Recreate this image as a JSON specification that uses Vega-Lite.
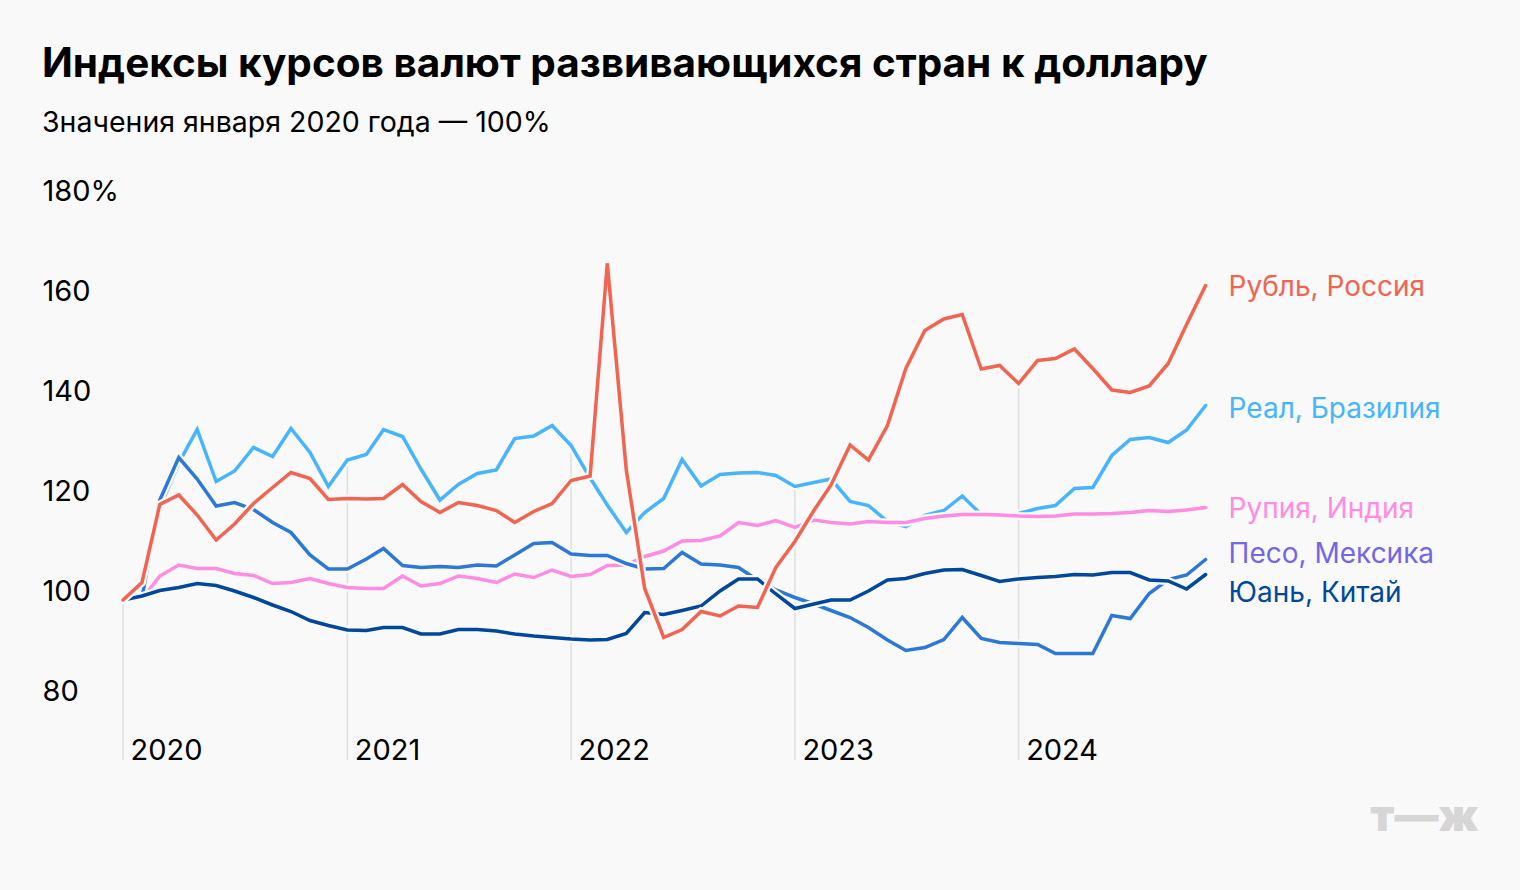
{
  "$schema": "https://vega.github.io/schema/vega-lite/v6.json",
  "width": 1120,
  "height": 560,
  "autosize": {"type": "none"},
  "padding": {"left": 123, "top": 200, "right": 277, "bottom": 130},
  "background": "#f9f9f9",
  "config": {
    "view": {"stroke": null},
    "font": "Inter",
    "axis": {"labelFont": "Inter", "labelColor": "#000000", "domain": false, "ticks": false, "grid": false}
  },
  "title": {
    "text": "Индексы курсов валют развивающихся стран к доллару",
    "subtitle": "Значения января 2020 года — 100%",
    "anchor": "start",
    "frame": "bounds",
    "font": "Inter",
    "fontSize": 40.5,
    "fontWeight": "bold",
    "color": "#000000",
    "subtitleFont": "Inter",
    "subtitleFontSize": 28.5,
    "subtitleColor": "#000000",
    "subtitlePadding": 23,
    "offset": 40
  },
  "data": {
    "format": {"parse": {"date": "date"}},
    "values": [
      {"date":"2020-01-01","cur":"RUB","value":100},{"date":"2020-02-01","cur":"RUB","value":103.5},{"date":"2020-03-01","cur":"RUB","value":119.1},{"date":"2020-04-01","cur":"RUB","value":121},{"date":"2020-05-01","cur":"RUB","value":117},{"date":"2020-06-01","cur":"RUB","value":112},{"date":"2020-07-01","cur":"RUB","value":115.2},{"date":"2020-08-01","cur":"RUB","value":119.3},{"date":"2020-09-01","cur":"RUB","value":122.5},{"date":"2020-10-01","cur":"RUB","value":125.5},{"date":"2020-11-01","cur":"RUB","value":124.3},{"date":"2020-12-01","cur":"RUB","value":120.1},
      {"date":"2021-01-01","cur":"RUB","value":120.3},{"date":"2021-02-01","cur":"RUB","value":120.2},{"date":"2021-03-01","cur":"RUB","value":120.3},{"date":"2021-04-01","cur":"RUB","value":123.1},{"date":"2021-05-01","cur":"RUB","value":119.7},{"date":"2021-06-01","cur":"RUB","value":117.5},{"date":"2021-07-01","cur":"RUB","value":119.5},{"date":"2021-08-01","cur":"RUB","value":118.9},{"date":"2021-09-01","cur":"RUB","value":117.9},{"date":"2021-10-01","cur":"RUB","value":115.5},{"date":"2021-11-01","cur":"RUB","value":117.7},{"date":"2021-12-01","cur":"RUB","value":119.3},
      {"date":"2022-01-01","cur":"RUB","value":123.9},{"date":"2022-02-01","cur":"RUB","value":124.8},{"date":"2022-03-01","cur":"RUB","value":167.3},{"date":"2022-04-01","cur":"RUB","value":126},{"date":"2022-05-01","cur":"RUB","value":102.3},{"date":"2022-06-01","cur":"RUB","value":92.5},{"date":"2022-07-01","cur":"RUB","value":94.1},{"date":"2022-08-01","cur":"RUB","value":97.7},{"date":"2022-09-01","cur":"RUB","value":96.8},{"date":"2022-10-01","cur":"RUB","value":98.8},{"date":"2022-11-01","cur":"RUB","value":98.5},{"date":"2022-12-01","cur":"RUB","value":106.5},
      {"date":"2023-01-01","cur":"RUB","value":111.7},{"date":"2023-02-01","cur":"RUB","value":117.9},{"date":"2023-03-01","cur":"RUB","value":123},{"date":"2023-04-01","cur":"RUB","value":131},{"date":"2023-05-01","cur":"RUB","value":128},{"date":"2023-06-01","cur":"RUB","value":134.9},{"date":"2023-07-01","cur":"RUB","value":146.3},{"date":"2023-08-01","cur":"RUB","value":153.9},{"date":"2023-09-01","cur":"RUB","value":156.2},{"date":"2023-10-01","cur":"RUB","value":157.1},{"date":"2023-11-01","cur":"RUB","value":146.2},{"date":"2023-12-01","cur":"RUB","value":146.9},
      {"date":"2024-01-01","cur":"RUB","value":143.3},{"date":"2024-02-01","cur":"RUB","value":147.9},{"date":"2024-03-01","cur":"RUB","value":148.3},{"date":"2024-04-01","cur":"RUB","value":150.2},{"date":"2024-05-01","cur":"RUB","value":146.3},{"date":"2024-06-01","cur":"RUB","value":142},{"date":"2024-07-01","cur":"RUB","value":141.5},{"date":"2024-08-01","cur":"RUB","value":142.8},{"date":"2024-09-01","cur":"RUB","value":147.3},{"date":"2024-10-01","cur":"RUB","value":155.1},{"date":"2024-11-01","cur":"RUB","value":162.9},

      {"date":"2020-01-01","cur":"BRL","value":100},{"date":"2020-02-01","cur":"BRL","value":100.4},{"date":"2020-03-01","cur":"BRL","value":118.5},{"date":"2020-04-01","cur":"BRL","value":127.4},{"date":"2020-05-01","cur":"BRL","value":134.1},{"date":"2020-06-01","cur":"BRL","value":123.7},{"date":"2020-07-01","cur":"BRL","value":125.8},{"date":"2020-08-01","cur":"BRL","value":130.5},{"date":"2020-09-01","cur":"BRL","value":128.7},{"date":"2020-10-01","cur":"BRL","value":134.3},{"date":"2020-11-01","cur":"BRL","value":129.5},{"date":"2020-12-01","cur":"BRL","value":122.7},
      {"date":"2021-01-01","cur":"BRL","value":128},{"date":"2021-02-01","cur":"BRL","value":129.1},{"date":"2021-03-01","cur":"BRL","value":134.1},{"date":"2021-04-01","cur":"BRL","value":132.7},{"date":"2021-05-01","cur":"BRL","value":126.2},{"date":"2021-06-01","cur":"BRL","value":120},{"date":"2021-07-01","cur":"BRL","value":123.1},{"date":"2021-08-01","cur":"BRL","value":125.3},{"date":"2021-09-01","cur":"BRL","value":126},{"date":"2021-10-01","cur":"BRL","value":132.3},{"date":"2021-11-01","cur":"BRL","value":132.8},{"date":"2021-12-01","cur":"BRL","value":134.9},
      {"date":"2022-01-01","cur":"BRL","value":130.9},{"date":"2022-02-01","cur":"BRL","value":124.4},{"date":"2022-03-01","cur":"BRL","value":119},{"date":"2022-04-01","cur":"BRL","value":113.5},{"date":"2022-05-01","cur":"BRL","value":117.5},{"date":"2022-06-01","cur":"BRL","value":120.3},{"date":"2022-07-01","cur":"BRL","value":128.1},{"date":"2022-08-01","cur":"BRL","value":122.8},{"date":"2022-09-01","cur":"BRL","value":125.1},{"date":"2022-10-01","cur":"BRL","value":125.4},{"date":"2022-11-01","cur":"BRL","value":125.5},{"date":"2022-12-01","cur":"BRL","value":124.9},
      {"date":"2023-01-01","cur":"BRL","value":122.7},{"date":"2023-02-01","cur":"BRL","value":123.5},{"date":"2023-03-01","cur":"BRL","value":124.2},{"date":"2023-04-01","cur":"BRL","value":119.7},{"date":"2023-05-01","cur":"BRL","value":118.9},{"date":"2023-06-01","cur":"BRL","value":115.7},{"date":"2023-07-01","cur":"BRL","value":114.7},{"date":"2023-08-01","cur":"BRL","value":116.9},{"date":"2023-09-01","cur":"BRL","value":117.9},{"date":"2023-10-01","cur":"BRL","value":120.8},{"date":"2023-11-01","cur":"BRL","value":117.1},{"date":"2023-12-01","cur":"BRL","value":116.7},
      {"date":"2024-01-01","cur":"BRL","value":117.3},{"date":"2024-02-01","cur":"BRL","value":118.3},{"date":"2024-03-01","cur":"BRL","value":118.9},{"date":"2024-04-01","cur":"BRL","value":122.3},{"date":"2024-05-01","cur":"BRL","value":122.5},{"date":"2024-06-01","cur":"BRL","value":128.9},{"date":"2024-07-01","cur":"BRL","value":132.1},{"date":"2024-08-01","cur":"BRL","value":132.5},{"date":"2024-09-01","cur":"BRL","value":131.5},{"date":"2024-10-01","cur":"BRL","value":134},{"date":"2024-11-01","cur":"BRL","value":138.9},

      {"date":"2020-01-01","cur":"INR","value":100},{"date":"2020-02-01","cur":"INR","value":100.2},{"date":"2020-03-01","cur":"INR","value":104.8},{"date":"2020-04-01","cur":"INR","value":107},{"date":"2020-05-01","cur":"INR","value":106.3},{"date":"2020-06-01","cur":"INR","value":106.3},{"date":"2020-07-01","cur":"INR","value":105.3},{"date":"2020-08-01","cur":"INR","value":104.9},{"date":"2020-09-01","cur":"INR","value":103.3},{"date":"2020-10-01","cur":"INR","value":103.5},{"date":"2020-11-01","cur":"INR","value":104.3},{"date":"2020-12-01","cur":"INR","value":103.3},
      {"date":"2021-01-01","cur":"INR","value":102.5},{"date":"2021-02-01","cur":"INR","value":102.3},{"date":"2021-03-01","cur":"INR","value":102.3},{"date":"2021-04-01","cur":"INR","value":104.8},{"date":"2021-05-01","cur":"INR","value":102.8},{"date":"2021-06-01","cur":"INR","value":103.3},{"date":"2021-07-01","cur":"INR","value":104.8},{"date":"2021-08-01","cur":"INR","value":104.3},{"date":"2021-09-01","cur":"INR","value":103.5},{"date":"2021-10-01","cur":"INR","value":105.2},{"date":"2021-11-01","cur":"INR","value":104.5},{"date":"2021-12-01","cur":"INR","value":106},
      {"date":"2022-01-01","cur":"INR","value":104.7},{"date":"2022-02-01","cur":"INR","value":105.1},{"date":"2022-03-01","cur":"INR","value":106.9},{"date":"2022-04-01","cur":"INR","value":107},{"date":"2022-05-01","cur":"INR","value":108.7},{"date":"2022-06-01","cur":"INR","value":109.8},{"date":"2022-07-01","cur":"INR","value":111.8},{"date":"2022-08-01","cur":"INR","value":111.9},{"date":"2022-09-01","cur":"INR","value":112.8},{"date":"2022-10-01","cur":"INR","value":115.5},{"date":"2022-11-01","cur":"INR","value":114.9},{"date":"2022-12-01","cur":"INR","value":115.9},
      {"date":"2023-01-01","cur":"INR","value":114.5},{"date":"2023-02-01","cur":"INR","value":116},{"date":"2023-03-01","cur":"INR","value":115.5},{"date":"2023-04-01","cur":"INR","value":115.2},{"date":"2023-05-01","cur":"INR","value":115.7},{"date":"2023-06-01","cur":"INR","value":115.5},{"date":"2023-07-01","cur":"INR","value":115.5},{"date":"2023-08-01","cur":"INR","value":116.3},{"date":"2023-09-01","cur":"INR","value":116.8},{"date":"2023-10-01","cur":"INR","value":117.1},{"date":"2023-11-01","cur":"INR","value":117.1},{"date":"2023-12-01","cur":"INR","value":117},
      {"date":"2024-01-01","cur":"INR","value":116.8},{"date":"2024-02-01","cur":"INR","value":116.7},{"date":"2024-03-01","cur":"INR","value":116.8},{"date":"2024-04-01","cur":"INR","value":117.2},{"date":"2024-05-01","cur":"INR","value":117.2},{"date":"2024-06-01","cur":"INR","value":117.3},{"date":"2024-07-01","cur":"INR","value":117.5},{"date":"2024-08-01","cur":"INR","value":117.9},{"date":"2024-09-01","cur":"INR","value":117.7},{"date":"2024-10-01","cur":"INR","value":118},{"date":"2024-11-01","cur":"INR","value":118.5},

      {"date":"2020-01-01","cur":"MXN","value":100},{"date":"2020-02-01","cur":"MXN","value":100.5},{"date":"2020-03-01","cur":"MXN","value":120},{"date":"2020-04-01","cur":"MXN","value":128.5},{"date":"2020-05-01","cur":"MXN","value":124.2},{"date":"2020-06-01","cur":"MXN","value":118.8},{"date":"2020-07-01","cur":"MXN","value":119.5},{"date":"2020-08-01","cur":"MXN","value":118.1},{"date":"2020-09-01","cur":"MXN","value":115.5},{"date":"2020-10-01","cur":"MXN","value":113.5},{"date":"2020-11-01","cur":"MXN","value":109},{"date":"2020-12-01","cur":"MXN","value":106.2},
      {"date":"2021-01-01","cur":"MXN","value":106.2},{"date":"2021-02-01","cur":"MXN","value":108.2},{"date":"2021-03-01","cur":"MXN","value":110.3},{"date":"2021-04-01","cur":"MXN","value":106.9},{"date":"2021-05-01","cur":"MXN","value":106.5},{"date":"2021-06-01","cur":"MXN","value":106.7},{"date":"2021-07-01","cur":"MXN","value":106.5},{"date":"2021-08-01","cur":"MXN","value":107},{"date":"2021-09-01","cur":"MXN","value":106.8},{"date":"2021-10-01","cur":"MXN","value":109},{"date":"2021-11-01","cur":"MXN","value":111.3},{"date":"2021-12-01","cur":"MXN","value":111.5},
      {"date":"2022-01-01","cur":"MXN","value":109.2},{"date":"2022-02-01","cur":"MXN","value":108.9},{"date":"2022-03-01","cur":"MXN","value":108.9},{"date":"2022-04-01","cur":"MXN","value":107.3},{"date":"2022-05-01","cur":"MXN","value":106.2},{"date":"2022-06-01","cur":"MXN","value":106.3},{"date":"2022-07-01","cur":"MXN","value":109.5},{"date":"2022-08-01","cur":"MXN","value":107.2},{"date":"2022-09-01","cur":"MXN","value":107},{"date":"2022-10-01","cur":"MXN","value":106.5},{"date":"2022-11-01","cur":"MXN","value":104},{"date":"2022-12-01","cur":"MXN","value":102},
      {"date":"2023-01-01","cur":"MXN","value":100.5},{"date":"2023-02-01","cur":"MXN","value":99.2},{"date":"2023-03-01","cur":"MXN","value":97.9},{"date":"2023-04-01","cur":"MXN","value":96.5},{"date":"2023-05-01","cur":"MXN","value":94.5},{"date":"2023-06-01","cur":"MXN","value":92},{"date":"2023-07-01","cur":"MXN","value":89.9},{"date":"2023-08-01","cur":"MXN","value":90.5},{"date":"2023-09-01","cur":"MXN","value":92.1},{"date":"2023-10-01","cur":"MXN","value":96.5},{"date":"2023-11-01","cur":"MXN","value":92.3},{"date":"2023-12-01","cur":"MXN","value":91.5},
      {"date":"2024-01-01","cur":"MXN","value":91.3},{"date":"2024-02-01","cur":"MXN","value":91.1},{"date":"2024-03-01","cur":"MXN","value":89.3},{"date":"2024-04-01","cur":"MXN","value":89.3},{"date":"2024-05-01","cur":"MXN","value":89.3},{"date":"2024-06-01","cur":"MXN","value":96.9},{"date":"2024-07-01","cur":"MXN","value":96.3},{"date":"2024-08-01","cur":"MXN","value":101.3},{"date":"2024-09-01","cur":"MXN","value":104.1},{"date":"2024-10-01","cur":"MXN","value":105},{"date":"2024-11-01","cur":"MXN","value":108.1},

      {"date":"2020-01-01","cur":"CNY","value":100},{"date":"2020-02-01","cur":"CNY","value":100.8},{"date":"2020-03-01","cur":"CNY","value":101.9},{"date":"2020-04-01","cur":"CNY","value":102.5},{"date":"2020-05-01","cur":"CNY","value":103.3},{"date":"2020-06-01","cur":"CNY","value":102.9},{"date":"2020-07-01","cur":"CNY","value":101.8},{"date":"2020-08-01","cur":"CNY","value":100.5},{"date":"2020-09-01","cur":"CNY","value":99},{"date":"2020-10-01","cur":"CNY","value":97.7},{"date":"2020-11-01","cur":"CNY","value":95.9},{"date":"2020-12-01","cur":"CNY","value":94.9},
      {"date":"2021-01-01","cur":"CNY","value":94},{"date":"2021-02-01","cur":"CNY","value":93.9},{"date":"2021-03-01","cur":"CNY","value":94.5},{"date":"2021-04-01","cur":"CNY","value":94.5},{"date":"2021-05-01","cur":"CNY","value":93.2},{"date":"2021-06-01","cur":"CNY","value":93.2},{"date":"2021-07-01","cur":"CNY","value":94.1},{"date":"2021-08-01","cur":"CNY","value":94.1},{"date":"2021-09-01","cur":"CNY","value":93.8},{"date":"2021-10-01","cur":"CNY","value":93.2},{"date":"2021-11-01","cur":"CNY","value":92.8},{"date":"2021-12-01","cur":"CNY","value":92.5},
      {"date":"2022-01-01","cur":"CNY","value":92.2},{"date":"2022-02-01","cur":"CNY","value":92},{"date":"2022-03-01","cur":"CNY","value":92.1},{"date":"2022-04-01","cur":"CNY","value":93.3},{"date":"2022-05-01","cur":"CNY","value":97.5},{"date":"2022-06-01","cur":"CNY","value":97.1},{"date":"2022-07-01","cur":"CNY","value":97.9},{"date":"2022-08-01","cur":"CNY","value":98.8},{"date":"2022-09-01","cur":"CNY","value":101.8},{"date":"2022-10-01","cur":"CNY","value":104.2},{"date":"2022-11-01","cur":"CNY","value":104.2},{"date":"2022-12-01","cur":"CNY","value":101.2},
      {"date":"2023-01-01","cur":"CNY","value":98.3},{"date":"2023-02-01","cur":"CNY","value":99.2},{"date":"2023-03-01","cur":"CNY","value":100},{"date":"2023-04-01","cur":"CNY","value":100},{"date":"2023-05-01","cur":"CNY","value":101.8},{"date":"2023-06-01","cur":"CNY","value":104},{"date":"2023-07-01","cur":"CNY","value":104.3},{"date":"2023-08-01","cur":"CNY","value":105.3},{"date":"2023-09-01","cur":"CNY","value":106},{"date":"2023-10-01","cur":"CNY","value":106.1},{"date":"2023-11-01","cur":"CNY","value":104.9},{"date":"2023-12-01","cur":"CNY","value":103.7},
      {"date":"2024-01-01","cur":"CNY","value":104.2},{"date":"2024-02-01","cur":"CNY","value":104.5},{"date":"2024-03-01","cur":"CNY","value":104.7},{"date":"2024-04-01","cur":"CNY","value":105.1},{"date":"2024-05-01","cur":"CNY","value":105},{"date":"2024-06-01","cur":"CNY","value":105.5},{"date":"2024-07-01","cur":"CNY","value":105.5},{"date":"2024-08-01","cur":"CNY","value":104},{"date":"2024-09-01","cur":"CNY","value":103.8},{"date":"2024-10-01","cur":"CNY","value":102.2},{"date":"2024-11-01","cur":"CNY","value":105.1}
    ]
  },
  "encoding": {
    "x": {
      "field": "date",
      "type": "temporal",
      "scale": {"type": "utc", "domain": [{"year": 2020, "month": 1, "date": 1, "utc": true}, {"year": 2025, "month": 1, "date": 1, "utc": true}]},
      "axis": {
        "title": "т—ж",
        "titleFont": "Inter",
        "titleFontSize": 44,
        "titleFontWeight": 900,
        "titleColor": "#d6d6d6",
        "titleAlign": "right",
        "titleBaseline": "alphabetic",
        "titleX": 1355,
        "titleY": 70,
        "values": [{"year": 2020, "month": 1, "date": 1, "utc": true}, {"year": 2021, "month": 1, "date": 1, "utc": true}, {"year": 2022, "month": 1, "date": 1, "utc": true}, {"year": 2023, "month": 1, "date": 1, "utc": true}, {"year": 2024, "month": 1, "date": 1, "utc": true}],
        "format": "%Y",
        "labelAlign": "left",
        "labelBaseline": "alphabetic",
        "labelPadding": -1,
        "labelOffset": 7,
        "labelFontSize": 29,
        "tickSize": 0
      }
    },
    "y": {
      "field": "value",
      "type": "quantitative",
      "scale": {"domain": [68, 180], "nice": false, "zero": false},
      "axis": {
        "title": null,
        "values": [80, 100, 120, 140, 160, 180],
        "labelExpr": "datum.value == 180 ? '180%' : datum.label",
        "labelAlign": "left",
        "labelBaseline": "alphabetic",
        "labelPadding": 81,
        "labelFontSize": 29,
        "tickSize": 0
      }
    }
  },
  "layer": [
    {
      "transform": [
        {"filter": "utcmonth(datum.date) == 0"},
        {"aggregate": [{"op": "max", "field": "value", "as": "top"}], "groupby": ["date"]}
      ],
      "mark": {"type": "rule", "color": "#dedede", "strokeWidth": 1.5},
      "encoding": {"y": {"field": "top", "type": "quantitative"}, "y2": {"datum": 68}}
    },
    {"transform": [{"filter": "datum.cur == 'BRL'"}], "mark": {"type": "line", "stroke": "#f9f9f9", "strokeWidth": 8, "strokeCap": "round"}},
    {"transform": [{"filter": "datum.cur == 'BRL'"}], "mark": {"type": "line", "stroke": "#46b4fe", "strokeWidth": 3.5, "strokeCap": "round"}},
    {"transform": [{"filter": "datum.cur == 'INR'"}], "mark": {"type": "line", "stroke": "#f9f9f9", "strokeWidth": 8, "strokeCap": "round"}},
    {"transform": [{"filter": "datum.cur == 'INR'"}], "mark": {"type": "line", "stroke": "#ff8be3", "strokeWidth": 3.5, "strokeCap": "round"}},
    {"transform": [{"filter": "datum.cur == 'MXN'"}], "mark": {"type": "line", "stroke": "#f9f9f9", "strokeWidth": 8, "strokeCap": "round"}},
    {"transform": [{"filter": "datum.cur == 'MXN'"}], "mark": {"type": "line", "stroke": "#2b78d7", "strokeWidth": 3.5, "strokeCap": "round"}},
    {"transform": [{"filter": "datum.cur == 'CNY'"}], "mark": {"type": "line", "stroke": "#f9f9f9", "strokeWidth": 8, "strokeCap": "round"}},
    {"transform": [{"filter": "datum.cur == 'CNY'"}], "mark": {"type": "line", "stroke": "#01489c", "strokeWidth": 3.5, "strokeCap": "round"}},
    {"transform": [{"filter": "datum.cur == 'RUB'"}], "mark": {"type": "line", "stroke": "#f9f9f9", "strokeWidth": 8, "strokeCap": "round"}},
    {"transform": [{"filter": "datum.cur == 'RUB'"}], "mark": {"type": "line", "stroke": "#f26450", "strokeWidth": 3.5, "strokeCap": "round"}},
    {"transform": [{"filter": "datum.cur == 'RUB' && utcyear(datum.date) == 2024 && utcmonth(datum.date) == 10"}], "mark": {"type": "text", "align": "left", "baseline": "alphabetic", "dx": 23, "dy": 10.5, "fontSize": 28, "font": "Inter", "color": "#f26450"}, "encoding": {"text": {"value": "Рубль, Россия"}}},
    {"transform": [{"filter": "datum.cur == 'BRL' && utcyear(datum.date) == 2024 && utcmonth(datum.date) == 10"}], "mark": {"type": "text", "align": "left", "baseline": "alphabetic", "dx": 23, "dy": 12, "fontSize": 28, "font": "Inter", "color": "#46b4fe"}, "encoding": {"text": {"value": "Реал, Бразилия"}}},
    {"transform": [{"filter": "datum.cur == 'INR' && utcyear(datum.date) == 2024 && utcmonth(datum.date) == 10"}], "mark": {"type": "text", "align": "left", "baseline": "alphabetic", "dx": 23, "dy": 10.5, "fontSize": 28, "font": "Inter", "color": "#ff8be3"}, "encoding": {"text": {"value": "Рупия, Индия"}}},
    {"transform": [{"filter": "datum.cur == 'MXN' && utcyear(datum.date) == 2024 && utcmonth(datum.date) == 10"}], "mark": {"type": "text", "align": "left", "baseline": "alphabetic", "dx": 23, "dy": 3.5, "fontSize": 28, "font": "Inter", "color": "#7466e8"}, "encoding": {"text": {"value": "Песо, Мексика"}}},
    {"transform": [{"filter": "datum.cur == 'CNY' && utcyear(datum.date) == 2024 && utcmonth(datum.date) == 10"}], "mark": {"type": "text", "align": "left", "baseline": "alphabetic", "dx": 23, "dy": 27, "fontSize": 28, "font": "Inter", "color": "#01489c"}, "encoding": {"text": {"value": "Юань, Китай"}}}
  ]
}
